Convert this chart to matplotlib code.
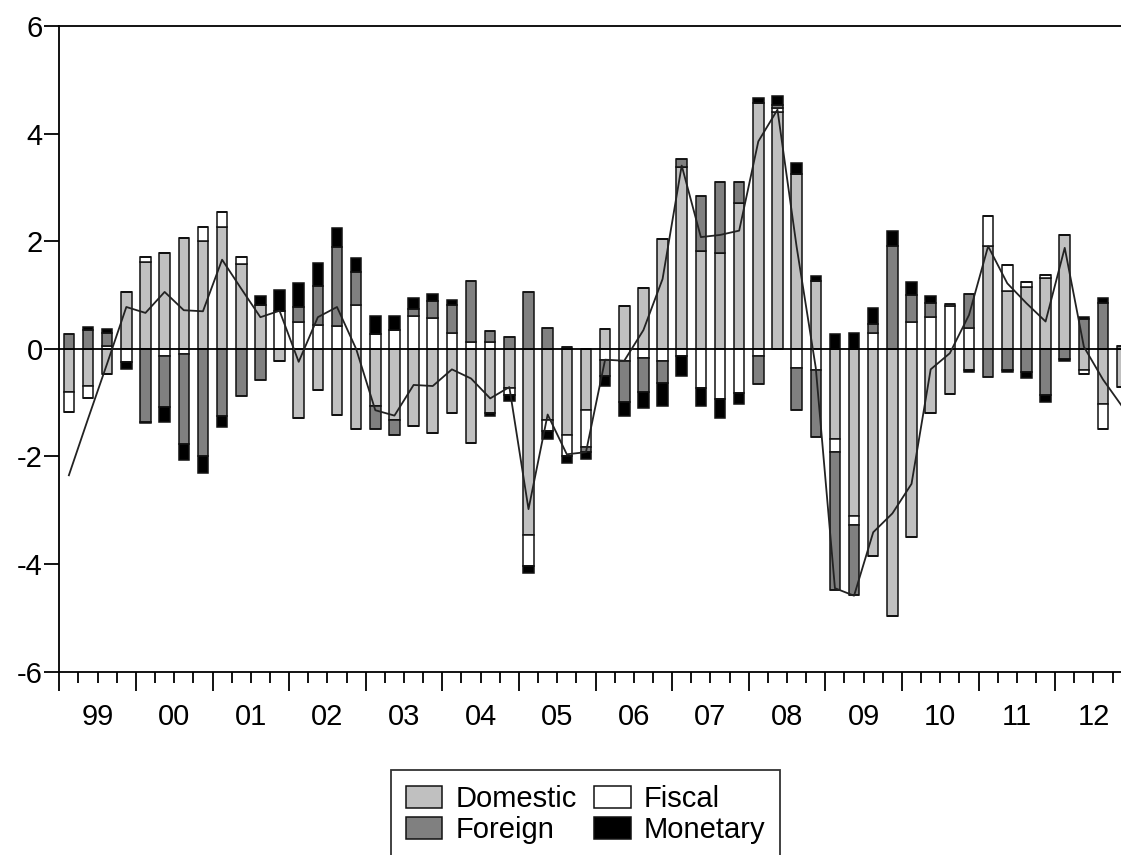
import numpy as np
import matplotlib
matplotlib.use("Agg")
import matplotlib.pyplot as plt
from matplotlib.patches import Patch

plt.rcParams['font.family'] = ['Liberation Sans', 'DejaVu Sans']

# quarterly contributions, 1999Q1 - 2012Q4
years = ['99', '00', '01', '02', '03', '04', '05', '06', '07', '08', '09', '10', '11', '12']

domestic = [-0.81, -0.69, -0.47, 1.06, 1.61, 1.79, 2.07, 2.01,
            2.26, 1.58, 0.81, -0.22, -1.28, -0.77, -1.22, -1.49,
            -1.06, -1.33, -1.43, -1.57, -1.20, -1.75, -1.20, -0.72,
            -3.47, -1.33, -1.61, -1.14, 0.37, 0.80, 1.14, 2.04,
            3.39, 1.82, 1.79, 2.72, 4.57, 4.40, 3.26, 1.26,
            -1.67, -3.10, -3.86, -4.96, -3.49, -1.20, -0.84, -0.39,
            1.91, 1.08, 1.16, 1.31, 2.11, -0.40, -1.02, -0.70]

fiscal = [-0.37, -0.23, 0.05, -0.25, 0.10, -0.14, -0.10, 0.25,
          0.29, 0.13, 0.00, 0.71, 0.51, 0.45, 0.42, 0.82,
          0.27, 0.35, 0.61, 0.57, 0.29, 0.12, 0.12, -0.14,
          -0.57, -0.20, -0.39, -0.68, -0.20, -0.22, -0.16, -0.22,
          -0.13, -0.72, -0.94, -0.82, -0.14, 0.08, -0.36, -0.40,
          -0.25, -0.18, 0.29, 0.00, 0.51, 0.59, 0.80, 0.39,
          0.56, 0.49, 0.08, 0.07, 0.00, -0.06, -0.47, 0.00]

foreign = [0.27, 0.35, 0.24, 0.00, -1.35, -0.94, -1.66, -2.00,
           -1.25, -0.88, -0.57, 0.00, 0.27, 0.72, 1.48, 0.61,
           -0.43, -0.27, 0.13, 0.33, 0.53, 1.15, 0.21, 0.22,
           1.06, 0.39, 0.03, -0.10, -0.31, -0.76, -0.64, -0.42,
           0.14, 1.02, 1.31, 0.38, -0.52, 0.05, -0.77, -1.24,
           -2.57, -1.29, 0.18, 1.91, 0.49, 0.27, 0.03, 0.63,
           -0.53, -0.39, -0.43, -0.86, -0.19, 0.55, 0.86, 0.05]

monetary = [0.00, 0.05, 0.08, -0.13, -0.03, -0.27, -0.31, -0.30,
            -0.21, 0.00, 0.17, 0.39, 0.45, 0.42, 0.35, 0.27,
            0.35, 0.27, 0.21, 0.12, 0.09, 0.00, -0.05, -0.10,
            -0.12, -0.14, -0.12, -0.12, -0.18, -0.27, -0.30, -0.42,
            -0.38, -0.34, -0.34, -0.21, 0.09, 0.18, 0.20, 0.09,
            0.27, 0.30, 0.30, 0.29, 0.24, 0.12, 0.00, -0.04,
            0.00, -0.03, -0.12, -0.13, -0.04, 0.05, 0.08, 0.00]

# actual series drawn as a line
actual = [-2.35, -1.30, -0.27, 0.78, 0.67, 1.06, 0.72, 0.70,
          1.66, 1.12, 0.59, 0.71, -0.24, 0.59, 0.78, 0.00,
          -1.14, -1.24, -0.67, -0.69, -0.38, -0.55, -0.92, -0.71,
          -2.98, -1.22, -1.96, -1.92, -0.20, -0.22, 0.35, 1.30,
          3.41, 2.08, 2.12, 2.20, 3.86, 4.45, 1.90, -0.35,
          -4.45, -4.59, -3.41, -3.06, -2.51, -0.38, -0.08, 0.63,
          1.91, 1.22, 0.85, 0.51, 1.88, 0.04, -0.57, -1.07]

series = [('Domestic', domestic, '#c0c0c0'),
          ('Fiscal', fiscal, '#ffffff'),
          ('Foreign', foreign, '#808080'),
          ('Monetary', monetary, '#000000')]

n = len(actual)
x = np.arange(n) + 0.5

fig = plt.figure(figsize=(11.21, 8.55), dpi=100)
# right edge of the axes runs slightly past the figure
ax = fig.add_axes([0.0529, 0.2146, 0.9567, 0.7546])

pos_bottom = np.zeros(n)
neg_bottom = np.zeros(n)
for name, vals, col in series:
    v = np.array(vals)
    pos = np.where(v > 0, v, 0)
    neg = np.where(v < 0, v, 0)
    ax.bar(x, pos, width=0.55, bottom=pos_bottom, color=col,
           edgecolor='#111111', linewidth=1.1, zorder=2)
    ax.bar(x, neg, width=0.55, bottom=neg_bottom, color=col,
           edgecolor='#111111', linewidth=1.1, zorder=2)
    pos_bottom += pos
    neg_bottom += neg

ax.axhline(0, color='black', linewidth=1.3, zorder=3)
ax.plot(x, actual, color='#222222', linewidth=1.3, zorder=4)

ax.set_xlim(0, n)
ax.set_ylim(-6, 6)
ax.set_yticks([-6, -4, -2, 0, 2, 4, 6])
ax.set_yticklabels(['-6', '-4', '-2', '0', '2', '4', '6'])

# year boundaries as long ticks, quarters as short ones
ax.set_xticks(np.arange(0, n + 1, 4))
ax.set_xticklabels([''] * len(np.arange(0, n + 1, 4)))
minor_pos = [q for q in range(n) if q % 4 != 0]
minor_lab = [years[q // 4] if q % 4 == 2 else '' for q in minor_pos]
ax.set_xticks(minor_pos, minor=True)
ax.set_xticklabels(minor_lab, minor=True)

ax.tick_params(axis='x', which='major', length=14, width=1.3, direction='out')
ax.tick_params(axis='x', which='minor', length=8, width=1.3, direction='out',
               labelsize=21, pad=15)
ax.tick_params(axis='y', which='major', length=11, width=1.3, direction='out',
               labelsize=21, pad=1)
for s in ax.spines.values():
    s.set_linewidth(1.3)

handles = [Patch(facecolor=c, edgecolor='#111111', linewidth=1.1, label=nm)
           for nm, _, c in [series[0], series[2], series[1], series[3]]]
leg = fig.legend(handles=handles, ncol=2, loc='upper center',
                 bbox_to_anchor=(0.5225, 0.099), fontsize=21,
                 frameon=True, fancybox=False, edgecolor='black',
                 handlelength=1.25, handleheight=0.8, handletextpad=0.45,
                 columnspacing=0.6, labelspacing=0.12, borderpad=0.5,
                 borderaxespad=0)
leg.get_frame().set_linewidth(1.3)

fig.savefig('out.png', dpi=100)
